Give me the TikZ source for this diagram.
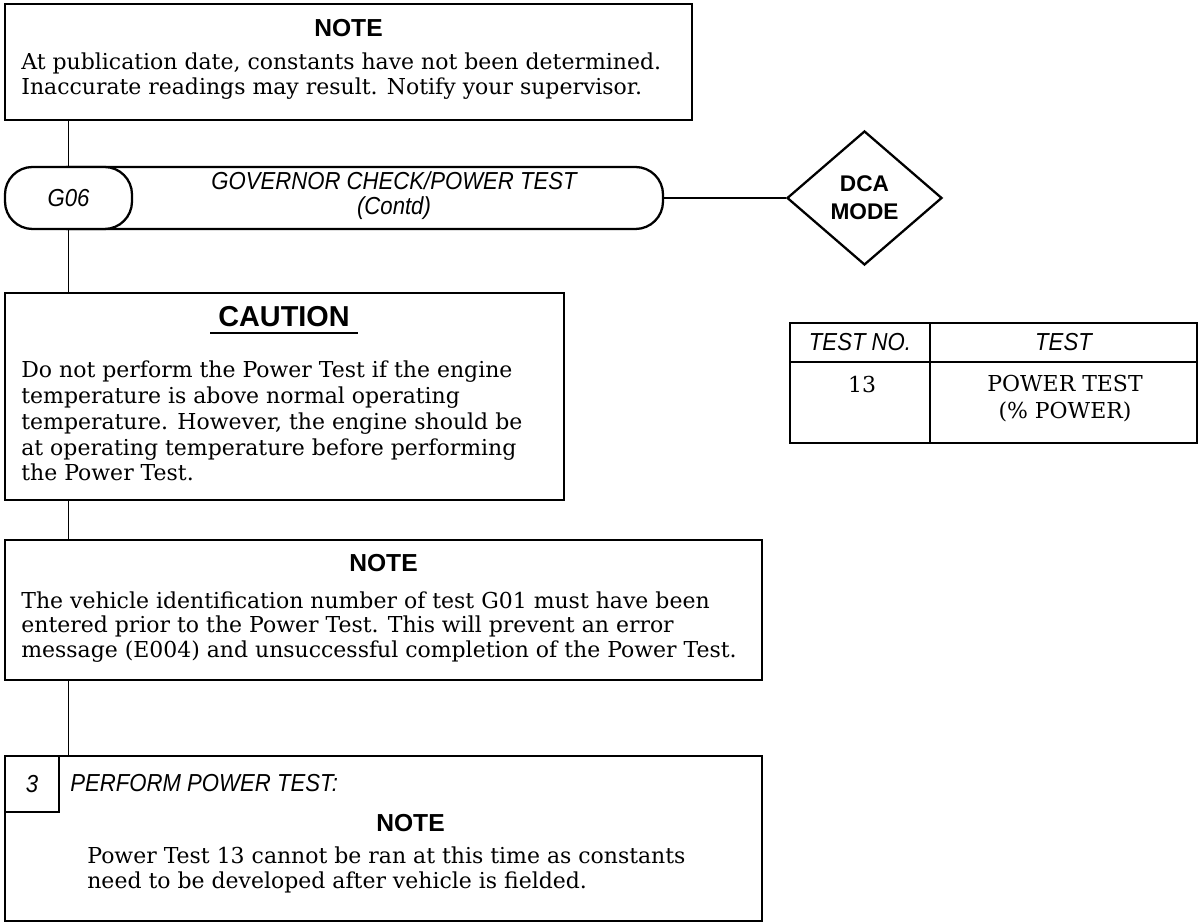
\documentclass[tikz,border=0pt]{standalone}
\usepackage{fontspec}
\setmainfont{DejaVu Serif}
\newfontfamily\headfont{Liberation Sans}
\newfontfamily\condfont[FakeStretch=0.9]{Liberation Sans}
\usetikzlibrary{shapes.geometric, positioning}

\begin{document}
\begin{tikzpicture}[
  box/.style={rectangle, draw, line width=1.3pt, inner sep=0pt},
  capsule/.style={rectangle, draw, line width=1.3pt, rounded corners=0.55cm,
    minimum height=1.24cm, inner sep=0pt},
  head/.style={font=\headfont\bfseries\fontsize{14}{16}\selectfont, inner sep=0pt},
  txt/.style={font=\fontsize{12.5}{14}\selectfont, align=left, anchor=west,
    inner sep=0pt},
  lbl/.style={font=\condfont\itshape\fontsize{14}{14}\selectfont,
    align=center, inner sep=0pt},
  link/.style={line width=1.1pt},
]
\useasboundingbox (0,0) rectangle (23.98,18.48);

\node[box, minimum width=13.74cm, minimum height=2.32cm] (note1) at (6.97,17.24) {};
\node[head] (note1h) at (6.97,17.92) {NOTE};
\node[txt] (note1t) at (0.42,16.96)
  {At publication date, constants have not been determined.\\
   Inaccurate readings may result. Notify your supervisor.};

\node[capsule, minimum width=12.46cm] (proc) at (7.03,14.52) {};
\node[capsule, lbl, fill=white, minimum width=2.54cm] (g06) at (1.37,14.52) {G06};
\node[lbl] (proct) at (7.88,14.57) {GOVERNOR CHECK/POWER TEST\\(Contd)};
\node[diamond, draw, line width=1.3pt, minimum width=3.1cm, minimum height=2.68cm,
  inner sep=0pt, align=center, font=\headfont\bfseries\fontsize{12.9}{15.9}\selectfont]
  (dca) at (17.29,14.52) {DCA\\MODE};

\node[box, minimum width=11.18cm, minimum height=4.14cm] (caution) at (5.69,10.55) {};
\node[head, font=\headfont\bfseries\fontsize{16.4}{18}\selectfont,
  inner xsep=0.16cm, inner ysep=0.11cm] (cauth) at (5.68,12.14) {CAUTION};
\draw[line width=1pt] (cauth.south west) -- (cauth.south east);
\node[txt, font=\fontsize{12.5}{14.7}\selectfont] (caut) at (0.42,10.06)
  {Do not perform the Power Test if the engine\\
   temperature is above normal operating\\
   temperature. However, the engine should be\\
   at operating temperature before performing\\
   the Power Test.};

\node[box, minimum width=15.14cm, minimum height=2.8cm] (note2) at (7.67,6.28) {};
\node[head] (note2h) at (7.67,7.22) {NOTE};
\node[txt] (note2t) at (0.42,5.94)
  {The vehicle identification number of test G01 must have been\\
   entered prior to the Power Test. This will prevent an error\\
   message (E004) and unsuccessful completion of the Power Test.};

\node[box, minimum width=15.14cm, minimum height=3.3cm] (step) at (7.67,1.71) {};
\node[box, lbl, anchor=north west, minimum width=1.08cm, minimum height=1.12cm]
  (num) at (step.north west) {3};
\node[lbl, anchor=west] (stept) at (1.40,2.82) {PERFORM POWER TEST:};
\node[head] (note3h) at (8.21,2.02) {NOTE};
\node[txt] (note3t) at (1.74,1.08)
  {Power Test 13 cannot be ran at this time as constants\\
   need to be developed after vehicle is fielded.};

\node[box, lbl, minimum width=2.8cm, minimum height=0.78cm] (hno) at (17.2,11.63) {TEST NO.};
\node[box, lbl, minimum width=5.34cm, minimum height=0.78cm] (htest) at (21.27,11.63) {TEST};
\node[box, minimum width=2.8cm, minimum height=1.62cm] (cno) at (17.2,10.43) {};
\node[box, minimum width=5.34cm, minimum height=1.62cm] (ctest) at (21.27,10.43) {};
\node[txt, anchor=center] (cnot) at (17.24,10.78) {13};
\node[txt, align=center, anchor=center] (ctestt) at (21.3,10.51) {POWER TEST\\[1pt](\% POWER)};

\draw[link] (note1.south -| g06.north) -- (g06.north);
\draw[link] (g06.south) -- (caution.north -| g06.south);
\draw[link] (caution.south -| g06.south) -- (note2.north -| g06.south);
\draw[link] (note2.south -| g06.south) -- (step.north -| g06.south);
\draw[link] (proc.east) -- (dca.west);
\end{tikzpicture}
\end{document}
